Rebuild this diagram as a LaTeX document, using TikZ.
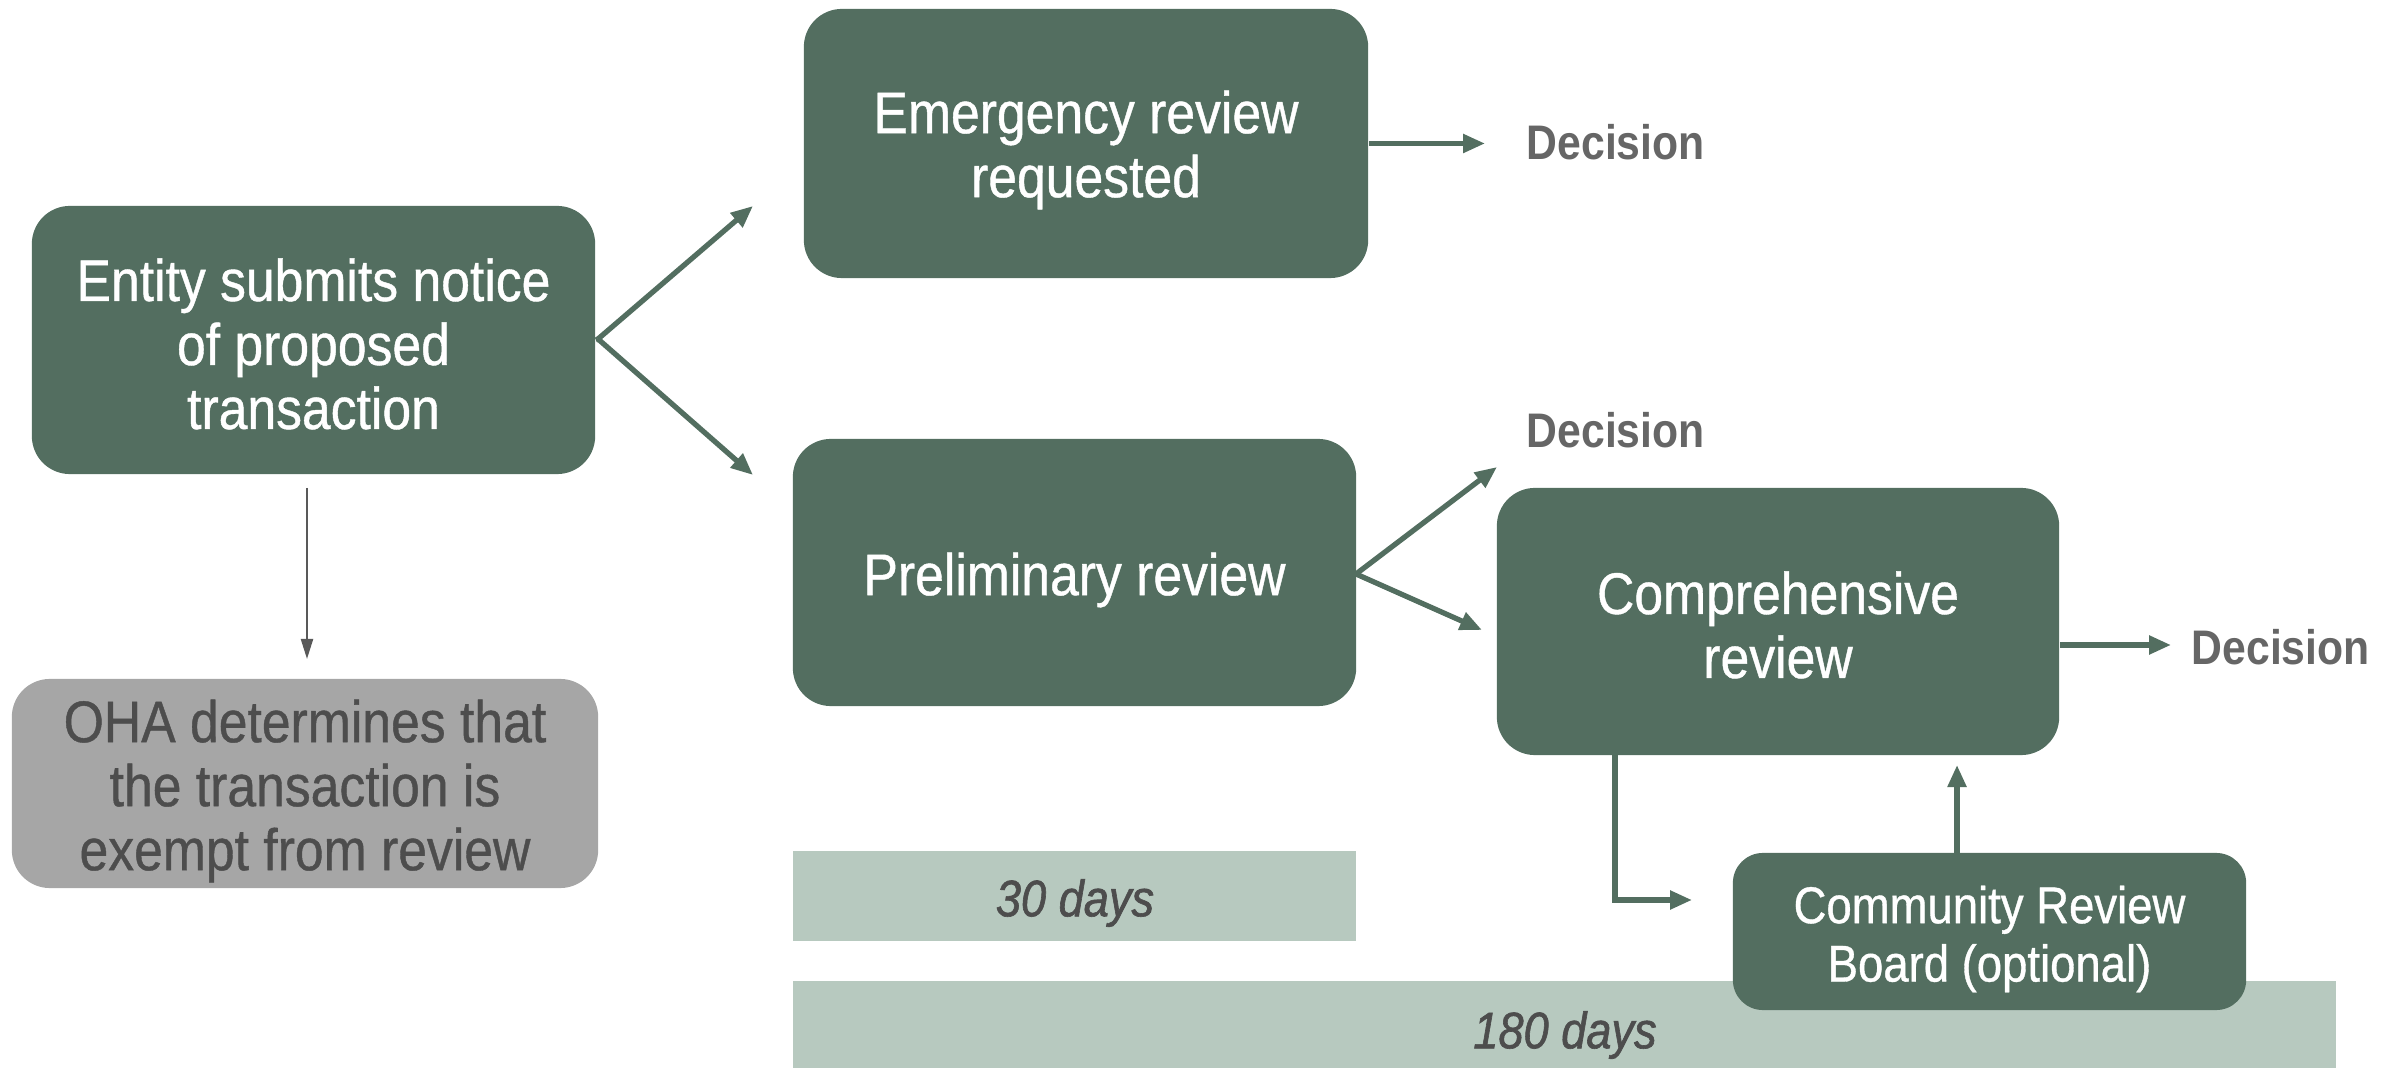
\documentclass[tikz,border=0pt]{standalone}
\usepackage{fontspec}
\setmainfont{Liberation Sans}[FakeStretch=0.88]
\newfontfamily\boxfont{Liberation Sans}[FakeStretch=0.88, FakeBold=0.7]
\newfontfamily\barfont{Liberation Sans Italic}[FakeStretch=0.88, FakeBold=1.2]
\usetikzlibrary{arrows.meta}
\definecolor{boxgreen}{HTML}{536E60}
\definecolor{bargreen}{HTML}{B7C9BF}
\definecolor{ohagray}{HTML}{A6A6A6}
\definecolor{darktext}{HTML}{4D4D4D}
\definecolor{dectext}{HTML}{666666}
\definecolor{thinarrow}{HTML}{595959}
\tikzset{
  stepbox/.style={fill=boxgreen, rounded corners=0.38cm, inner sep=0pt},
  ohabox/.style={fill=ohagray, rounded corners=0.38cm, inner sep=0pt},
  crbbox/.style={fill=boxgreen, rounded corners=0.3cm, inner sep=0pt},
  boxtext/.style={text=white, align=center, inner sep=0pt,
    font=\boxfont\fontsize{16.7}{18.2}\selectfont},
  ohatext/.style={text=darktext, align=center, inner sep=0pt,
    font=\boxfont\fontsize{16.7}{18.2}\selectfont},
  crbtext/.style={text=white, align=center, inner sep=0pt,
    font=\boxfont\fontsize{14.7}{16.6}\selectfont},
  bar/.style={fill=bargreen, inner sep=0pt},
  bartext/.style={text=darktext, inner sep=0pt, font=\barfont\fontsize{14.6}{16}\selectfont},
  dec/.style={text=dectext, font=\fontsize{13.8}{16}\selectfont\bfseries, inner sep=0pt},
  garrow/.style={draw=boxgreen, line width=1.5pt, -{Triangle[length=0.22cm,width=0.18cm]}},
  gline/.style={draw=boxgreen, line width=1.5pt},
  tarrow/.style={draw=thinarrow, line width=0.6pt, -{Triangle[length=0.2cm,width=0.12cm]}},
}
\begin{document}
\begin{tikzpicture}[x=0.01cm, y=-0.01cm]
\useasboundingbox (0,0) rectangle (2392,1068);
% bars
\node[bar, minimum width=5.63cm, minimum height=0.90cm] (b30) at (1074.5,896) {};
\node[bartext] (b30t) at (1075,903) {30 days};
\node[bar, minimum width=15.43cm, minimum height=0.87cm] (b180) at (1564.5,1024.5) {};
\node[bartext] (b180t) at (1565,1035) {180 days};
% boxes
\node[stepbox, minimum width=5.63cm, minimum height=2.68cm] (entity) at (313.5,340) {};
\node[boxtext] (entityt) at (313.5,344) {Entity submits notice\\of proposed\\transaction};
\node[ohabox, minimum width=5.86cm, minimum height=2.09cm] (oha) at (305,783.5) {};
\node[ohatext] (ohat) at (305,791) {OHA determines that\\the transaction is\\exempt from review};
\node[stepbox, minimum width=5.64cm, minimum height=2.69cm] (emerg) at (1086,143.5) {};
\node[boxtext] (emergt) at (1086,150) {Emergency review\\requested};
\node[stepbox, minimum width=5.63cm, minimum height=2.67cm] (prelim) at (1074.5,572.5) {};
\node[boxtext] (prelimt) at (1074.5,580) {Preliminary review};
\node[stepbox, minimum width=5.62cm, minimum height=2.67cm] (comp) at (1778,621.5) {};
\node[boxtext] (compt) at (1778,625) {Comprehensive\\review};
\node[crbbox, minimum width=5.13cm, minimum height=1.57cm] (crb) at (1989.5,931.5) {};
\node[crbtext] (crbt) at (1989.5,939) {Community Review\\Board (optional)};
% decisions
\node[dec, anchor=west] (d1) at (1526,142) {Decision};
\node[dec, anchor=west] (d2) at (1526,430) {Decision};
\node[dec, anchor=west] (d3) at (2191,647) {Decision};
% helper coordinates
\coordinate (eout) at (598,339);
\coordinate (eup) at (753,206);
\coordinate (edn) at (753,475);
\coordinate (pout) at (1356,574);
\coordinate (pup) at (1497,467);
\coordinate (pdn) at (1482,630);
% connectors
\draw[gline] (entity.east) -- (eout);
\draw[garrow] (eout) -- (eup);
\draw[garrow] (eout) -- (edn);
\draw[tarrow] (307,488) -- (307,659);
\draw[garrow] (emerg.east) -- (1485,143.5);
\draw[garrow] (pout) -- (pup);
\draw[garrow] (pout) -- (pdn);
\draw[garrow] (comp.east |- 0,645) -- (2171,645);
\draw[garrow] (1615,755) -- (1615,900) -- (1692,900);
\draw[garrow] (1957,853) -- (1957,765);
\end{tikzpicture}
\end{document}
